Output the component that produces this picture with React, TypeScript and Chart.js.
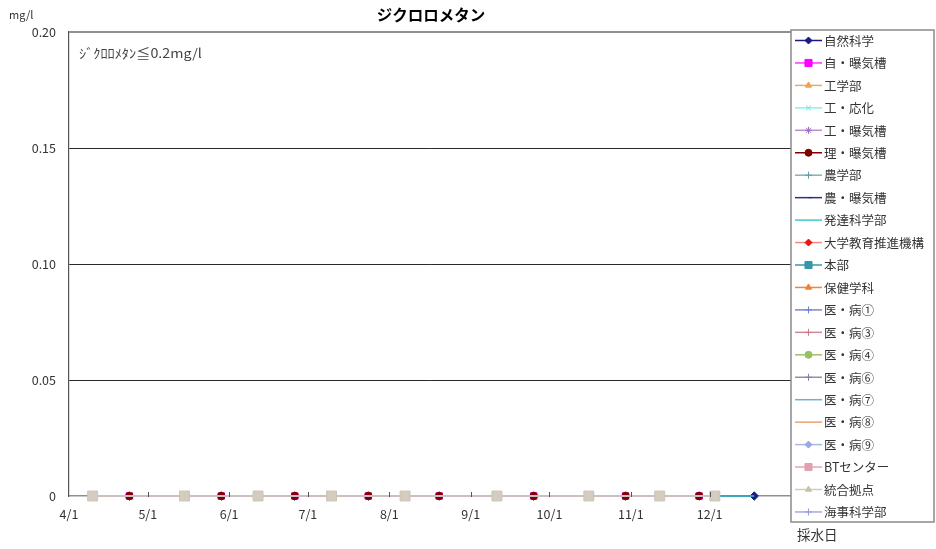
import React, { useEffect, useRef } from 'react';
import { Chart, registerables } from 'chart.js';
import { drawPoint } from 'chart.js/helpers';

Chart.register(...registerables);

// ---- data -------------------------------------------------------------
const TITLE = 'ジクロロメタン';
const Y_UNIT = 'mg/l';
const X_TITLE = '採水日';
const LIMIT_NOTE = 'ｼﾞｸﾛﾛﾒﾀﾝ≦0.2mg/l';

const MONTH_TICKS = ['4/1', '5/1', '6/1', '7/1', '8/1', '9/1', '10/1', '11/1', '12/1'];
const AXIS_START = '4/1';
const AXIS_END_DAYS = 275; // through 12/31
const Y_MIN = 0;
const Y_MAX = 0.2;
const Y_STEP = 0.05;

const SERIES_NAMES = [
  '自然科学', '自・曝気槽', '工学部', '工・応化', '工・曝気槽', '理・曝気槽',
  '農学部', '農・曝気槽', '発達科学部', '大学教育推進機構', '本部', '保健学科',
  '医・病①', '医・病③', '医・病④', '医・病⑥', '医・病⑦', '医・病⑧', '医・病⑨',
  'BTセンター', '統合拠点', '海事科学部',
];
const SERIES_LINE_COLORS = [
  '#1a1a80', '#ff33ff', '#f0a868', '#88f0f0', '#b890cc', '#800000',
  '#88b0b8', '#303080', '#40c8d0', '#f08888', '#3398a8', '#f08838',
  '#7888d0', '#d08898', '#a0c070', '#9090b0', '#70b0d0', '#f0a070', '#a8b8e0',
  '#e0a8b4', '#d0ccb4', '#a8a8e0',
];
const SERIES_MARKER_COLORS = [
  '#1a1a80', '#ff00ff', '#f0a050', '#60e8e8', '#a070c0', '#800000',
  '#6898a8', '#202070', '#40c8d0', '#ee1111', '#3398a8', '#f08030',
  '#7080d0', '#d07888', '#98c060', '#8080a8', '#70b0d0', '#f0a070', '#98a8e0',
  '#e0a0b0', '#c8c4a0', '#9898dc',
];
const SERIES_MARKERS = [
  'rectRot', 'rect', 'triangle', 'crossRot', 'star', 'circle',
  'cross', 'dash', null, 'rectRot', 'rect', 'triangle',
  'cross', 'cross', 'circle', 'cross', null, null, 'rectRot',
  'rect', 'triangle', 'cross',
];

// sampling rounds (value in mg/l)
const SHIZEN_DATES = ['4/24', '5/29', '6/26', '7/24', '8/20', '9/25', '10/30', '11/27', '12/18'];
const SHIZEN_VALUES = [0, 0, 0, 0, 0, 0, 0, 0, 0];
const JI_AERATION_DATES = ['4/24', '5/29', '6/26', '7/24', '8/20', '9/25', '10/30', '11/27'];
const JI_AERATION_VALUES = [0, 0, 0, 0, 0, 0, 0, 0];
const RI_AERATION_DATES = ['4/24', '5/29', '6/26', '7/24', '8/20', '9/25', '10/30', '11/27'];
const RI_AERATION_VALUES = [0, 0, 0, 0, 0, 0, 0, 0];
const HATTATSU_DATES = ['12/3', '12/18'];
const HATTATSU_VALUES = [0, 0];
const TOGO_DATES = ['4/10', '5/15', '6/12', '7/10', '8/7', '9/11', '10/16', '11/12', '12/3'];
const TOGO_VALUES = [0, 0, 0, 0, 0, 0, 0, 0, 0];

const SERIES_DATA: Record<string, [string[], number[]]> = {
  '自然科学': [SHIZEN_DATES, SHIZEN_VALUES],
  '自・曝気槽': [JI_AERATION_DATES, JI_AERATION_VALUES],
  '理・曝気槽': [RI_AERATION_DATES, RI_AERATION_VALUES],
  '発達科学部': [HATTATSU_DATES, HATTATSU_VALUES],
  '統合拠点': [TOGO_DATES, TOGO_VALUES],
};

// ---- helpers ----------------------------------------------------------
const FISCAL_MONTHS = [4, 5, 6, 7, 8, 9, 10, 11, 12, 1, 2, 3];
const MONTH_DAYS: Record<number, number> = {
  1: 31, 2: 28, 3: 31, 4: 30, 5: 31, 6: 30, 7: 31, 8: 31, 9: 30, 10: 31, 11: 30, 12: 31,
};
function dayOf(md: string): number {
  const [m, d] = md.split('/').map(Number);
  let n = 0;
  for (const mm of FISCAL_MONTHS) {
    if (mm === m) return n + d - 1;
    n += MONTH_DAYS[mm];
  }
  return n;
}

const FONT = "'Noto Sans CJK JP', 'Liberation Sans', sans-serif";
const TEXT = '#333333';

const decorPlugin = {
  id: 'decor',
  afterDraw(chart: any) {
    const ctx: CanvasRenderingContext2D = chart.ctx;
    const area = chart.chartArea;
    const xs = chart.scales.x;
    ctx.save();

    // month tick marks sitting on the baseline
    ctx.strokeStyle = '#555';
    ctx.lineWidth = 1;
    xs.ticks.forEach((t: any) => {
      if (t.value <= xs.min) return;
      const px = Math.round(xs.getPixelForValue(t.value)) + 0.5;
      ctx.beginPath();
      ctx.moveTo(px, area.bottom - 4);
      ctx.lineTo(px, area.bottom + 1);
      ctx.stroke();
    });

    ctx.fillStyle = '#000';
    ctx.textBaseline = 'middle';
    ctx.textAlign = 'center';
    ctx.font = `bold 15.5px ${FONT}`;
    ctx.fillText(TITLE, 431, 15);

    ctx.fillStyle = TEXT;
    ctx.textAlign = 'left';
    ctx.font = `11px ${FONT}`;
    ctx.fillText(Y_UNIT, 9, 15);

    ctx.fillStyle = '#444';
    ctx.font = `14px ${FONT}`;
    ctx.save();
    ctx.translate(79, 53);
    ctx.scale(1.02, 0.92);
    ctx.fillText(LIMIT_NOTE, 0, 0);
    ctx.restore();

    ctx.fillStyle = TEXT;
    ctx.font = `13.5px ${FONT}`;
    ctx.fillText(X_TITLE, 797, 535);

    // legend box
    const lx = 791, ly = 30, lw = 143, lh = 492;
    ctx.fillStyle = '#fff';
    ctx.fillRect(lx, ly, lw, lh);
    ctx.strokeStyle = '#8a8a8a';
    ctx.lineWidth = 1.5;
    ctx.strokeRect(lx, ly, lw, lh);

    const step = 22.45;
    SERIES_NAMES.forEach((name, i) => {
      const y = 40.5 + i * step;
      ctx.strokeStyle = SERIES_LINE_COLORS[i];
      ctx.lineWidth = 1.5;
      ctx.beginPath();
      ctx.moveTo(795, y);
      ctx.lineTo(822, y);
      ctx.stroke();
      const style = SERIES_MARKERS[i];
      if (style) {
        ctx.fillStyle = SERIES_MARKER_COLORS[i];
        ctx.strokeStyle = SERIES_MARKER_COLORS[i];
        ctx.lineWidth = 1;
        drawPoint(ctx, { pointStyle: style, radius: style === 'rect' ? 5 : 3.5, rotation: 0, borderWidth: 1 }, 808.5, y);
      }
      ctx.fillStyle = TEXT;
      ctx.font = `12.5px ${FONT}`;
      ctx.textAlign = 'left';
      ctx.fillText(name, 824, y + 0.5);
    });

    ctx.restore();
  },
};

export default function App() {
  const canvasRef = useRef<HTMLCanvasElement | null>(null);

  useEffect(() => {
    if (!canvasRef.current) return;
    const n = SERIES_NAMES.length;
    const datasets = SERIES_NAMES.map((name, i) => {
      const entry = SERIES_DATA[name];
      const data = entry ? entry[0].map((d, k) => ({ x: dayOf(d), y: entry[1][k] })) : [];
      const isTogo = name === '統合拠点';
      const style = SERIES_MARKERS[i];
      let radius = 0;
      if (isTogo) radius = 7;
      else if (style === 'rect') radius = 4.6;
      else if (style === 'rectRot') radius = 4.2;
      else if (style === 'circle') radius = 3.7;
      else if (style) radius = 3;
      return {
        label: name,
        data,
        order: n - i,
        clip: false,
        borderColor: isTogo ? '#cbbfc2' : SERIES_LINE_COLORS[i],
        backgroundColor: isTogo ? '#d4ccbf' : SERIES_MARKER_COLORS[i],
        pointBorderColor: isTogo ? '#cbc3b4' : SERIES_MARKER_COLORS[i],
        borderWidth: isTogo ? 2 : 1.6,
        pointStyle: isTogo ? 'rect' : style || 'circle',
        pointRadius: radius,
        pointBorderWidth: 1,
        tension: 0,
      };
    });

    const chart = new Chart(canvasRef.current, {
      type: 'line',
      data: { datasets },
      plugins: [decorPlugin],
      options: {
        animation: false,
        responsive: false,
        devicePixelRatio: 1,
        layout: { padding: { top: 32, right: 145, left: 0, bottom: 0 } },
        plugins: { legend: { display: false }, tooltip: { enabled: false }, title: { display: false } },
        scales: {
          x: {
            type: 'linear',
            min: dayOf(AXIS_START),
            max: AXIS_END_DAYS,
            afterBuildTicks: (scale: any) => {
              scale.ticks = MONTH_TICKS.map((m) => ({ value: dayOf(m) }));
            },
            afterFit: (scale: any) => { scale.height = 53; },
            ticks: {
              autoSkip: false,
              maxRotation: 0,
              padding: 11,
              color: TEXT,
              font: { family: FONT, size: 12.5 },
              callback: (_v: any, idx: number) => MONTH_TICKS[idx],
            },
            grid: { drawOnChartArea: false, drawTicks: false },
            border: { color: '#8f8f8f', width: 1.5 },
          },
          y: {
            min: Y_MIN,
            max: Y_MAX,
            afterFit: (scale: any) => { scale.width = 69; },
            ticks: {
              stepSize: Y_STEP,
              padding: 13,
              color: TEXT,
              font: { family: FONT, size: 12.5 },
              callback: (v: any) => (Number(v) === 0 ? '0' : Number(v).toFixed(2)),
            },
            grid: {
              drawTicks: false,
              color: (c: any) => {
                const v = c.tick ? c.tick.value : 0;
                if (Math.abs(v) < 1e-9) return 'rgba(0,0,0,0)';
                if (Math.abs(v - Y_MAX) < 1e-9) return '#8f8f8f';
                return '#2a2a2a';
              },
              lineWidth: (c: any) => {
                const v = c.tick ? c.tick.value : 0;
                return Math.abs(v - Y_MAX) < 1e-9 ? 2 : 1;
              },
            },
            border: { color: '#555', width: 1.2 },
          },
        },
      } as any,
    });
    return () => chart.destroy();
  }, []);

  return (
    <div style={{ position: 'fixed', left: 0, top: 0, width: 936, height: 549, background: '#fff' }}>
      <canvas ref={canvasRef} width={936} height={549} />
    </div>
  );
}
